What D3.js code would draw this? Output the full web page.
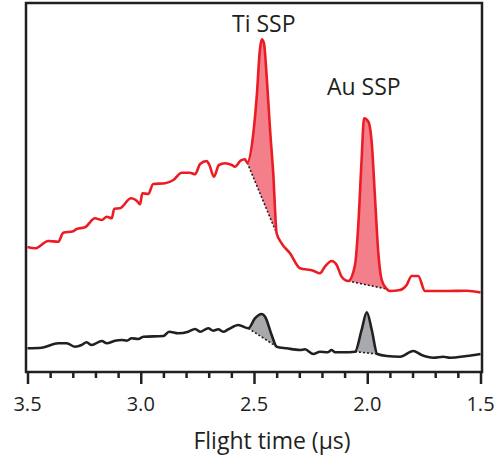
<!DOCTYPE html>
<html>
<head>
<meta charset="utf-8">
<script src="https://cdn.jsdelivr.net/npm/d3@7"></script>
<style>
  body { margin: 0; background: #fff; }
  svg text { font-family: "Open Sans", sans-serif; fill: #231f20; }
</style>
</head>
<body>
<svg width="495" height="464"></svg>
<script>
// flight time (us) and signal (arb. units) for the two traces
var redTime = [3.50, 3.467, 3.408, 3.364, 3.342, 3.298, 3.283, 3.246, 3.202, 3.172, 3.150, 3.128, 3.117, 3.092,
    3.043, 3.018, 3.003, 2.993, 2.967, 2.945, 2.893, 2.856, 2.819, 2.783, 2.760, 2.738, 2.709, 2.697, 2.677,
    2.655, 2.628, 2.598, 2.584, 2.559, 2.540, 2.530, 2.503, 2.488, 2.474, 2.466, 2.456, 2.444, 2.429, 2.415,
    2.400, 2.378, 2.341, 2.297, 2.238, 2.209, 2.187, 2.157, 2.135, 2.113, 2.084, 2.054, 2.040, 2.025, 2.014,
    1.995, 1.980, 1.966, 1.951, 1.936, 1.914, 1.900, 1.855, 1.826, 1.804, 1.775, 1.745, 1.649, 1.561, 1.50];
var redSignal = [125, 123.7, 131, 130.3, 139.3, 140.7, 143, 144.7, 153.7, 152, 155.3, 153.7, 163.3, 163.7,
    173.7, 171.3, 167.7, 178.7, 178, 188, 188.7, 192, 199.3, 199.3, 197.7, 208, 211, 207, 195.3,
    207, 208.7, 207, 205.3, 211.3, 212.7, 209.3, 238.7, 275.3, 322, 332.7, 328.7, 295.3, 242, 198.7,
    138.7, 128.7, 118.7, 103.7, 101.3, 98.7, 105.3, 111, 107, 95.3, 91, 107, 145.3, 212, 253.7,
    250.3, 228.7, 175.3, 118.7, 92, 83, 81, 82, 87, 96, 96, 81, 81, 81.3, 79.5];

var blackTime = [3.50, 3.437, 3.364, 3.327, 3.290, 3.261, 3.239, 3.217, 3.172, 3.150, 3.114, 3.084, 3.062,
    3.040, 3.011, 2.989, 2.900, 2.875, 2.834, 2.790, 2.760, 2.738, 2.702, 2.680, 2.658, 2.636, 2.613, 2.569,
    2.525, 2.496, 2.466, 2.451, 2.422, 2.400, 2.356, 2.297, 2.275, 2.238, 2.209, 2.176, 2.157, 2.142, 2.106,
    2.054, 2.025, 2.002, 1.980, 1.956, 1.914, 1.855, 1.797, 1.760, 1.708, 1.664, 1.635, 1.561, 1.50];
var blackSignal = [23.7, 24.3, 28.7, 28.7, 25.3, 27, 29.7, 27, 31, 28.7, 31.3, 32, 31.3,
    33.7, 33, 35.3, 36, 40.3, 38.7, 40.3, 43, 40.3, 43.7, 41.3, 42.7, 40.3, 42.7, 47,
    43.7, 53.7, 58, 55.3, 37, 25.3, 23.7, 22, 22.7, 18, 20.3, 19.7, 22, 19.7, 19.7,
    20.3, 42, 59.7, 42, 18, 16, 15.3, 21, 17, 14.3, 15.3, 14.3, 16, 18];

// start/end times of the shaded SSP peaks
var redPeaks = [[2.530, 2.400], [2.084, 1.914]];
var blackPeaks = [[2.525, 2.400], [2.054, 1.956]];

var xTicks = [3.5, 3.0, 2.5, 2.0, 1.5];
var peakLabels = ['Ti SSP', 'Au SSP'];

var svg = d3.select('svg');

var x = d3.scaleLinear().domain([3.5, 1.5]).range([27.5, 480.5]);
var y = d3.scaleLinear().domain([0, 370]).range([372, 2]);

var red = redTime.map((t, i) => ({t: t, v: redSignal[i]}));
var black = blackTime.map((t, i) => ({t: t, v: blackSignal[i]}));

var line = d3.line()
    .x(d => x(d.t))
    .y(d => y(d.v))
    .curve(d3.curveMonotoneX);

function drawTrace(data, peaks, stroke, fill) {
    peaks.forEach(p => {
        var seg = data.filter(d => d.t <= p[0] + 1e-6 && d.t >= p[1] - 1e-6);
        svg.append('path')
            .attr('d', line(seg) + 'Z')
            .attr('fill', fill)
            .attr('stroke', 'none');
        svg.append('line')
            .attr('x1', x(seg[0].t)).attr('y1', y(seg[0].v))
            .attr('x2', x(seg[seg.length - 1].t)).attr('y2', y(seg[seg.length - 1].v))
            .attr('stroke', '#231f20')
            .attr('stroke-width', 1.6)
            .attr('stroke-dasharray', '2,2');
    });
    svg.append('path')
        .attr('d', line(data))
        .attr('fill', 'none')
        .attr('stroke', stroke)
        .attr('stroke-width', 2.6)
        .attr('stroke-linejoin', 'round');
}

drawTrace(black, blackPeaks, '#231f20', '#a7a9ac');
drawTrace(red, redPeaks, '#ed1c24', '#f27f89');

// frame
svg.append('rect')
    .attr('x', 26).attr('y', 3)
    .attr('width', 456).attr('height', 369)
    .attr('fill', 'none')
    .attr('stroke', '#231f20')
    .attr('stroke-width', 2.5);

// axis ticks
var axisG = svg.append('g')
    .attr('transform', 'translate(0,372)');
axisG.call(d3.axisBottom(x).tickValues(d3.range(0, 21).map(i => 3.5 - i * 0.1))
    .tickSize(6).tickFormat(''));
axisG.selectAll('.tick')
    .filter(d => xTicks.some(v => Math.abs(v - d) < 1e-6))
    .select('line').attr('y2', 12);
axisG.select('.domain').remove();
axisG.selectAll('.tick line').attr('stroke', '#231f20').attr('stroke-width', 2.5);

svg.selectAll('.xlab')
    .data(xTicks)
    .enter().append('text')
    .attr('class', 'xlab')
    .attr('x', d => x(d))
    .attr('y', 411)
    .attr('text-anchor', 'middle')
    .style('font-size', '20px')
    .text(d => d.toFixed(1));

svg.append('text')
    .attr('x', 272)
    .attr('y', 449)
    .attr('text-anchor', 'middle')
    .style('font-size', '23px')
    .text('Flight time (\u03bcs)');

// peak labels
var labelPos = [[2.597, 32], [2.178, 95]];
svg.selectAll('.plab')
    .data(peakLabels)
    .enter().append('text')
    .attr('class', 'plab')
    .attr('x', (d, i) => x(labelPos[i][0]))
    .attr('y', (d, i) => labelPos[i][1])
    .style('font-size', '23px')
    .text(d => d);
</script>
</body>
</html>
